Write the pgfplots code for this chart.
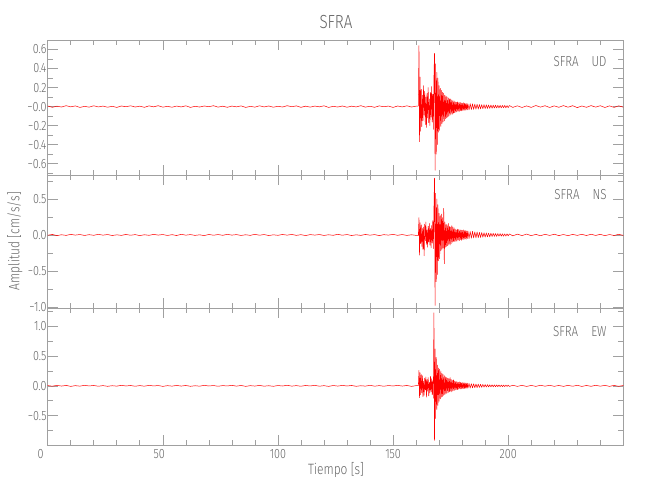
\documentclass[border=0pt]{standalone}
\usepackage{fontspec}
\setmainfont{Fira Sans Light}[FakeStretch=0.8]
\usepackage{pgfplots}
\usepackage{pgfplotstable}
\pgfplotsset{compat=1.18}

\definecolor{axisgray}{HTML}{A0A0A0}
\definecolor{textgray}{HTML}{666666}

% t [s], UD, NS, EW  [cm/s/s]
\pgfplotstableread{
t ud ns ew
0 0.006 -0.004 0.005
2 -0.008 0.007 -0.006
4 0.004 -0.009 0.008
6 -0.005 0.003 -0.004
8 0.009 -0.006 0.007
10 -0.003 0.008 -0.009
12 0.007 -0.002 0.003
14 -0.009 0.006 -0.005
16 0.002 -0.007 0.009
18 -0.006 0.004 -0.002
20 0.008 -0.005 0.006
22 -0.004 0.009 -0.007
24 0.005 -0.003 0.004
26 -0.007 0.006 -0.008
28 0.003 -0.008 0.002
30 -0.009 0.002 -0.005
32 0.006 -0.006 0.009
34 -0.002 0.007 -0.003
36 0.008 -0.004 0.006
38 -0.005 0.005 -0.007
40 0.004 -0.009 0.004
42 -0.008 0.003 -0.006
44 0.007 -0.005 0.008
46 -0.003 0.008 -0.002
48 0.009 -0.002 0.005
50 -0.006 0.006 -0.009
52 0.002 -0.007 0.003
54 -0.007 0.004 -0.005
56 0.005 -0.008 0.007
58 -0.004 0.009 -0.004
60 0.008 -0.003 0.006
62 -0.009 0.005 -0.008
64 0.003 -0.006 0.002
66 -0.005 0.002 -0.006
68 0.006 -0.009 0.009
70 -0.002 0.007 -0.003
72 0.009 -0.004 0.005
74 -0.006 0.006 -0.007
76 0.004 -0.005 0.004
78 -0.008 0.008 -0.002
80 0.005 -0.002 0.008
82 -0.003 0.005 -0.005
84 0.007 -0.007 0.006
86 -0.009 0.003 -0.009
88 0.002 -0.006 0.003
90 -0.006 0.009 -0.004
92 0.008 -0.004 0.007
94 -0.004 0.006 -0.006
96 0.006 -0.008 0.002
98 -0.007 0.002 -0.008
100 0.003 -0.005 0.005
102 -0.005 0.007 -0.003
104 0.009 -0.003 0.009
106 -0.002 0.008 -0.005
108 0.007 -0.006 0.004
110 -0.008 0.004 -0.007
112 0.004 -0.009 0.006
114 -0.006 0.005 -0.002
116 0.005 -0.002 0.008
118 -0.003 0.006 -0.006
120 0.008 -0.007 0.003
122 -0.009 0.003 -0.009
124 0.002 -0.005 0.005
126 -0.005 0.009 -0.004
128 0.006 -0.004 0.007
130 -0.007 0.006 -0.003
132 0.004 -0.008 0.006
134 -0.004 0.002 -0.008
136 0.009 -0.006 0.002
138 -0.006 0.007 -0.005
140 0.003 -0.003 0.009
142 -0.008 0.005 -0.006
144 0.007 -0.009 0.004
146 -0.002 0.004 -0.007
148 0.005 -0.002 0.005
150 -0.009 0.008 -0.003
152 0.006 -0.005 0.008
154 -0.004 0.006 -0.004
156 0.008 -0.007 0.006
158 -0.005 0.003 -0.009
160 0.004 -0.006 0.003
161.00 0.006 -0.005 0.004
161.25 0.64 0.24 0.26
161.50 -0.37 -0.28 -0.20
161.75 0.31 0.17 0.22
162.00 -0.26 -0.12 -0.15
162.25 0.18 0.14 0.19
162.50 -0.21 -0.16 -0.12
162.75 0.12 0.09 0.17
163.00 -0.15 -0.20 -0.18
163.25 0.22 0.11 0.08
163.50 -0.09 -0.29 -0.16
163.75 0.16 0.15 0.13
164.00 -0.19 -0.08 -0.07
164.25 0.10 0.18 0.15
164.50 -0.22 -0.13 -0.19
164.75 0.14 0.07 0.11
165.00 -0.12 -0.17 -0.09
165.25 0.20 0.12 0.14
165.50 -0.17 -0.10 -0.17
165.75 0.08 0.16 0.06
166.00 -0.20 -0.14 -0.12
166.25 0.15 0.09 0.16
166.50 -0.11 -0.18 -0.10
166.75 0.21 0.13 0.12
167.00 -0.16 -0.11 -0.15
167.25 0.13 0.20 0.09
167.50 -0.24 -0.19 -0.21
167.75 0.30 0.35 1.23
168.00 0.56 0.79 -0.92
168.25 -0.67 -0.98 0.62
168.50 0.45 0.58 -0.55
168.75 -0.50 -0.65 0.48
169.00 0.36 0.50 -0.40
169.25 -0.40 -0.55 0.35
169.50 0.30 0.42 -0.33
169.75 -0.27 -0.36 0.30
170.00 0.22 0.30 -0.26
170.25 -0.25 -0.33 0.28
170.50 0.19 0.27 -0.22
170.75 -0.21 -0.22 0.25
171.00 0.17 0.29 -0.19
171.25 -0.18 -0.20 0.21
171.50 0.15 0.24 -0.18
171.75 -0.16 -0.18 0.19
172.00 0.14 0.37 -0.16
172.25 -0.15 -0.40 0.17
172.50 0.12 0.18 -0.15
172.75 -0.13 -0.17 0.15
173.00 0.11 0.15 -0.13
173.25 -0.12 -0.16 0.14
173.50 0.10 0.14 -0.12
173.75 -0.11 -0.15 0.13
174.00 0.09 0.16 -0.11
174.25 -0.10 -0.13 0.12
174.50 0.08 0.12 -0.10
174.75 -0.09 -0.14 0.14
175.00 0.08 0.11 -0.09
175.25 -0.08 -0.12 0.11
175.50 0.07 0.13 -0.10
175.75 -0.08 -0.10 0.09
176.00 0.06 0.11 -0.08
176.25 -0.07 -0.09 0.10
176.50 0.06 0.10 -0.08
176.75 -0.065 -0.09 0.08
177.00 0.05 0.08 -0.07
177.25 -0.06 -0.09 0.075
177.50 0.045 0.07 -0.06
177.75 -0.055 -0.085 0.07
178.00 0.05 0.08 -0.065
178.25 -0.05 -0.07 0.06
178.50 0.04 0.075 -0.055
178.75 -0.05 -0.08 0.065
179.00 0.045 0.07 -0.05
179.25 -0.045 -0.065 0.06
179.50 0.04 0.07 -0.055
179.75 -0.045 -0.075 0.05
180.00 0.035 0.065 -0.05
180.25 -0.04 -0.06 0.055
180.50 0.04 0.07 -0.045
180.75 -0.04 -0.065 0.05
181.00 0.035 0.06 -0.045
181.25 -0.04 -0.055 0.05
181.50 0.03 0.06 -0.04
181.75 -0.035 -0.06 0.045
182.00 0.03 0.055 -0.04
182.25 -0.035 -0.05 0.045
182.50 0.03 0.055 -0.04
183.0 -0.035 -0.05 0.04
183.5 0.03 0.048 -0.038
184.0 -0.032 -0.045 0.036
184.5 0.028 0.05 -0.034
185.0 -0.03 -0.042 0.035
185.5 0.026 0.044 -0.032
186.0 -0.028 -0.04 0.03
186.5 0.025 0.042 -0.03
187.0 -0.026 -0.038 0.028
187.5 0.022 0.036 -0.027
188.0 -0.024 -0.035 0.026
188.5 0.02 0.034 -0.025
189.0 -0.022 -0.032 0.024
189.5 0.02 0.03 -0.022
190.0 -0.021 -0.03 0.022
190.5 0.018 0.028 -0.02
191.0 -0.02 -0.027 0.02
191.5 0.017 0.025 -0.019
192.0 -0.019 -0.026 0.018
192.5 0.016 0.024 -0.017
193.0 -0.018 -0.022 0.018
193.5 0.015 0.023 -0.016
194.0 -0.016 -0.021 0.016
194.5 0.014 0.02 -0.015
195.0 -0.015 -0.021 0.015
195.5 0.013 0.019 -0.014
196.0 -0.015 -0.018 0.014
196.5 0.013 0.018 -0.013
197.0 -0.014 -0.017 0.013
197.5 0.012 0.016 -0.013
198.0 -0.013 -0.017 0.012
198.5 0.012 0.015 -0.012
199.0 -0.013 -0.016 0.012
199.5 0.011 0.015 -0.011
200.0 -0.012 -0.014 0.012
200.5 0.011 0.014 -0.011
202 -0.009 -0.012 0.010
204 0.008 0.011 -0.009
206 -0.010 -0.009 0.008
208 0.007 0.012 -0.010
210 -0.009 -0.010 0.007
212 0.011 0.008 -0.009
214 -0.006 -0.011 0.010
216 0.009 0.009 -0.006
218 -0.010 -0.007 0.009
220 0.007 0.010 -0.008
222 -0.008 -0.009 0.006
224 0.010 0.006 -0.009
226 -0.007 -0.010 0.008
228 0.009 0.008 -0.007
230 -0.011 -0.006 0.009
232 0.006 0.009 -0.010
234 -0.008 -0.008 0.006
236 0.010 0.010 -0.008
238 -0.006 -0.007 0.009
240 0.009 0.009 -0.006
242 -0.010 -0.010 0.008
244 0.007 0.006 -0.009
246 -0.009 -0.008 0.007
248 0.008 0.009 -0.008
250 -0.007 -0.006 0.006
}\sfra

\pgfplotsset{
  panel/.style={
    width=575.6bp, scale only axis,
    xmin=0, xmax=250,
    xtick={0,50,100,150,200},
    minor xtick={10,20,30,40,60,70,80,90,110,120,130,140,160,170,180,190,210,220,230,240},
    axis line style={draw=axisgray, line width=0.6bp},
    tick style={draw=axisgray, line width=0.6bp},
    major tick length=10bp, minor tick length=5bp,
    tick label style={text=textgray, font=\fontsize{13.5}{15}\selectfont},
    yticklabel style={inner xsep=1bp},
    xticklabels={},
    clip=true,
  },
  trace/.style={red, line width=0.5bp, line join=round},
}
\tikzset{tag/.style={anchor=east, text=textgray, font=\fontsize{14.5}{17}\selectfont}}

\begin{document}
\begin{tikzpicture}
\path[use as bounding box] (0,0) rectangle (650bp,-500bp);

% UD
\begin{axis}[panel, at={(47.7bp,-40bp)}, anchor=north west, height=135bp,
  ymin=-0.72, ymax=0.70,
  ytick={-0.6,-0.4,-0.2,0,0.2,0.4,0.6},
  yticklabels={−0.6,−0.4,−0.2,−0.0,0.2,0.4,0.6},
  minor ytick={-0.7,-0.5,-0.3,-0.1,0.1,0.3,0.5,0.7}]
\addplot[trace] table[x=t, y=ud] {\sfra};
\node[tag] at (rel axis cs:0.977,0.84) {SFRA\hspace{13bp}UD};
\end{axis}

% NS
\begin{axis}[panel, at={(47.7bp,-175bp)}, anchor=north west, height=133bp,
  ymin=-1.015, ymax=0.833,
  ytick={-1,-0.5,0,0.5},
  yticklabels={−1.0,−0.5,0.0,0.5},
  minor ytick={-0.75,-0.25,0.25,0.75}]
\addplot[trace] table[x=t, y=ns] {\sfra};
\node[tag] at (rel axis cs:0.977,0.855) {SFRA\hspace{13bp}NS};
\end{axis}

% EW
\begin{axis}[panel, at={(47.7bp,-308bp)}, anchor=north west, height=137bp,
  ymin=-0.996, ymax=1.31,
  ytick={-0.5,0,0.5,1},
  yticklabels={−0.5,0.0,0.5,1.0},
  minor ytick={-0.75,-0.25,0.25,0.75,1.25},
  xticklabels={{\makebox[0pt]{\hspace{-14bp}0}},{\makebox[0pt]{\hspace{-7bp}50}},100,150,200},
  xticklabel style={yshift=-1bp}]
\addplot[trace] table[x=t, y=ew] {\sfra};
\node[tag] at (rel axis cs:0.977,0.83) {SFRA\hspace{13bp}EW};
\end{axis}

\node[text=textgray, font=\fontsize{19}{22}\selectfont] at (336bp,-22bp) {SFRA};
\node[text=textgray, font=\fontsize{15}{17}\selectfont] at (336bp,-470bp) {Tiempo [s]};
\node[text=textgray, font=\fontsize{15}{17}\selectfont, rotate=90] at (15bp,-241bp) {Amplitud [cm/s/s]};
\end{tikzpicture}
\end{document}
